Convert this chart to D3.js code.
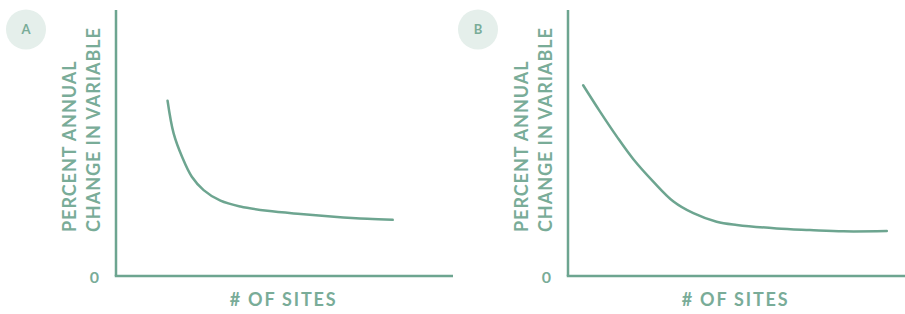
<!DOCTYPE html>
<html><head><meta charset="utf-8">
<script src="https://cdn.jsdelivr.net/npm/d3@7"></script>
<style>
html,body{margin:0;padding:0;background:#fff;}
svg text{font-family:Lato,"Open Sans",sans-serif;font-weight:700;}
</style></head>
<body><svg id="c" width="905" height="314"></svg>
<script>
const panelLabels = ["A", "B"];
const yTitleLines = ["PERCENT ANNUAL", "CHANGE IN VARIABLE"];
const xTitle = "# OF SITES";
const yTickLabels = ["0"];
// curve A: [sites, percent change]
const seriesAx = [15.3, 17.1, 19.6, 22.5, 26.0, 31.0, 36.9, 44.9, 54.8, 64.7, 74.6, 82.1];
const seriesAy = [65.9, 53.6, 44.8, 37.3, 32.3, 28.3, 26.1, 24.5, 23.3, 22.3, 21.5, 21.1];
// curve B
const seriesBx = [4.5, 9.5, 14.5, 19.4, 25.3, 31.3, 37.2, 44.1, 50.1, 61.9, 71.8, 81.7, 94.6];
const seriesBy = [71.7, 61.8, 52.4, 43.9, 35.5, 28.0, 23.6, 20.4, 19.2, 17.9, 17.3, 16.8, 16.9];

const lineColor = "#6da590", textColor = "#79ac98", circleColor = "#e5efeb";
const svg = d3.select("#c");
const panels = [
  {label: panelLabels[0], xs: seriesAx, ys: seriesAy, ox: 116},
  {label: panelLabels[1], xs: seriesBx, ys: seriesBy, ox: 568}
];
const W = 337, yTop = 10, yBottom = 276;

panels.forEach(p => {
  const x = d3.scaleLinear().domain([0, 100]).range([p.ox, p.ox + W]);
  const y = d3.scaleLinear().domain([0, 100]).range([yBottom, yTop]);
  const g = svg.append("g");
  // circle label
  g.append("circle").attr("cx", p.ox - 90).attr("cy", 29.5).attr("r", 20).attr("fill", circleColor);
  g.append("text").attr("x", p.ox - 90).attr("y", 29.5).attr("dy", "0.36em")
    .attr("text-anchor", "middle").attr("font-size", 13).attr("fill", textColor).text(p.label);
  // axes
  const ya = d3.axisLeft(y).tickValues([0]).tickFormat(() => yTickLabels[0]).tickSize(0).tickPadding(17);
  const yg = g.append("g").attr("transform", `translate(${p.ox},0)`).call(ya);
  yg.select(".domain").attr("stroke", lineColor).attr("stroke-width", 2.5).attr("d", `M0,${yTop}V${yBottom}`);
  yg.selectAll("text").attr("font-size", 16).attr("fill", textColor).attr("font-family", "Lato").attr("font-weight", 700).attr("dy", "0.4em");
  const xa = d3.axisBottom(x).tickValues([]).tickSize(0);
  const xg = g.append("g").attr("transform", `translate(0,${yBottom})`).call(xa);
  xg.select(".domain").attr("stroke", lineColor).attr("stroke-width", 2.5).attr("d", `M${p.ox - 1.25},0H${p.ox + W}`);
  // titles
  g.append("text").attr("x", p.ox + W / 2 - 1).attr("y", 306).attr("text-anchor", "middle")
    .attr("font-size", 18).attr("letter-spacing", "1.8px").attr("fill", textColor).text(xTitle);
  yTitleLines.forEach((t, i) => {
    g.append("text").attr("transform", `translate(${p.ox - 40 + i * 23.5},232) rotate(-90)`)
      .attr("text-anchor", "start").attr("font-size", 18).attr("letter-spacing", "0.95px")
      .attr("fill", textColor).text(t);
  });
  // curve
  const pts = p.xs.map((v, i) => [v, p.ys[i]]);
  g.append("path").datum(pts)
    .attr("d", d3.line().x(d => x(d[0])).y(d => y(d[1])).curve(d3.curveCatmullRom.alpha(0.5)))
    .attr("fill", "none").attr("stroke", lineColor).attr("stroke-width", 2.5).attr("stroke-linecap", "round");
});
</script></body></html>
